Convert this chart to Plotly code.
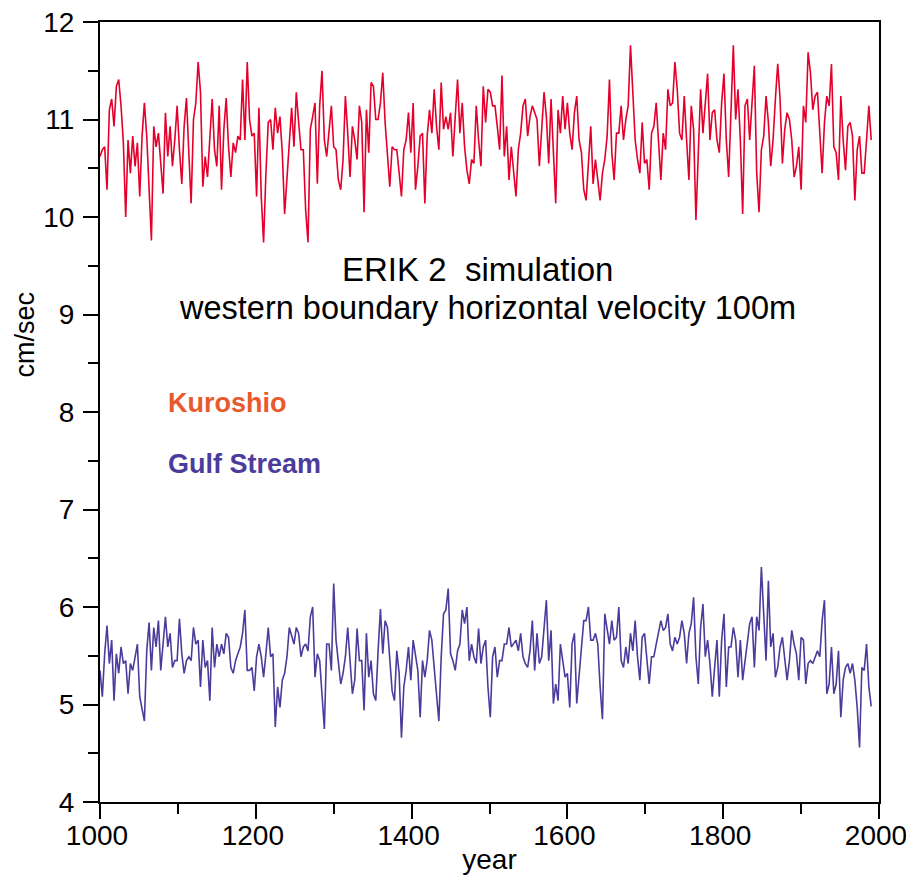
import plotly.graph_objects as go

# ---- data (3-year sampling) ----
years = list(range(1000, 1991, 3))

kuroshio_1000_1255 = [
    10.62, 10.69, 10.72, 10.28, 11.10, 11.21, 10.93, 11.34, 11.41, 11.14,
    10.76, 10.00, 10.79, 10.45, 10.83, 10.52, 10.76, 10.21, 10.83, 11.17,
    10.83, 10.21, 9.76, 10.93, 10.72, 10.86, 10.55, 10.24, 11.07, 10.62,
    10.93, 10.52, 10.79, 11.14, 10.69, 10.34, 10.93, 11.22, 10.66, 10.14,
    11.00, 11.17, 11.59, 11.28, 10.31, 10.62, 10.41, 10.79, 11.21, 10.69,
    10.52, 11.14, 10.28, 10.90, 11.22, 10.72, 10.41, 10.76, 10.66, 10.83,
    10.79, 11.41, 10.79, 11.59, 11.00, 10.83, 10.86, 10.21, 11.12, 10.21,
    9.74, 10.45, 10.97, 11.00, 10.69, 11.12, 10.86, 11.03, 10.66, 10.03,
    10.41, 10.69, 11.12, 10.72, 11.28, 10.97]
kuroshio_1258_1492 = [
    10.69, 10.69, 10.07, 9.74, 10.90, 11.03, 11.17, 10.34, 11.14, 11.50,
    10.79, 10.62, 10.86, 11.14, 10.72, 10.69, 10.38, 10.28, 10.59, 11.24,
    10.86, 10.41, 10.93, 10.79, 10.59, 11.14, 10.97, 10.05, 11.10, 10.66,
    11.38, 11.34, 11.00, 11.00, 11.17, 11.48, 10.97, 10.66, 10.31, 10.72,
    10.69, 10.69, 10.45, 10.21, 10.69, 10.79, 11.07, 10.66, 11.17, 10.28,
    10.52, 10.83, 10.86, 10.14, 10.83, 11.10, 10.86, 11.31, 10.93, 10.69,
    11.38, 10.90, 11.03, 10.90, 11.07, 10.62, 11.03, 11.41, 10.86, 11.17,
    10.72, 10.48, 10.34, 10.59, 10.55, 11.14, 10.79, 10.52, 11.34]
kuroshio_1495_1741 = [
    10.97, 11.31, 11.28, 11.14, 11.14, 10.93, 10.69, 11.45, 10.62, 10.93,
    10.38, 10.72, 10.45, 10.21, 10.69, 10.86, 11.14, 11.21, 10.83, 11.03,
    11.14, 11.07, 11.00, 10.52, 10.97, 11.28, 11.03, 10.55, 11.21, 10.66,
    10.14, 11.10, 10.86, 11.24, 10.90, 11.17, 10.86, 10.69, 11.07, 11.24,
    10.79, 10.66, 10.28, 10.17, 10.62, 10.93, 10.34, 10.59, 10.38, 10.17,
    10.45, 10.59, 10.83, 11.41, 10.66, 10.38, 10.86, 10.86, 11.14, 10.79,
    11.00, 11.14, 11.76, 11.31, 10.79, 10.59, 10.45, 10.97, 10.55, 10.59,
    10.28, 10.86, 10.93, 11.17, 10.79, 10.38, 10.86, 10.69, 11.31, 11.14,
    11.17, 11.59, 11.31]
kuroshio_1744_1990 = [
    10.86, 10.79, 11.24, 10.79, 10.38, 11.14, 10.90, 9.97, 10.62, 11.31,
    10.86, 11.14, 11.47, 10.79, 11.07, 11.10, 10.79, 10.66, 11.17, 11.47,
    10.79, 10.41, 11.14, 11.76, 11.00, 11.31, 10.79, 10.03, 11.14, 11.21,
    10.79, 11.21, 11.55, 10.45, 10.05, 10.69, 10.83, 11.24, 10.97, 10.52,
    10.79, 11.21, 11.57, 11.21, 10.55, 10.90, 11.07, 11.00, 10.79, 10.41,
    10.52, 10.72, 10.28, 11.14, 10.97, 11.69, 11.48, 11.10, 11.24, 11.28,
    10.79, 10.45, 10.97, 11.24, 11.14, 11.57, 10.72, 10.66, 10.38, 11.24,
    10.79, 10.48, 10.93, 10.97, 10.83, 10.17, 10.69, 10.83, 10.45, 10.45,
    10.79, 11.14, 10.79]

gulf_1000_1255 = [
    5.35, 5.08, 5.52, 5.81, 5.42, 5.66, 5.04, 5.52, 5.32, 5.59,
    5.42, 5.45, 5.11, 5.42, 5.35, 5.49, 5.62, 5.08, 4.97, 4.83,
    5.55, 5.84, 5.35, 5.79, 5.59, 5.86, 5.35, 5.66, 5.90, 5.59,
    5.73, 5.38, 5.45, 5.45, 5.88, 5.52, 5.32, 5.45, 5.49, 5.45,
    5.79, 5.62, 5.66, 5.18, 5.66, 5.38, 5.45, 5.04, 5.79, 5.38,
    5.62, 5.49, 5.62, 5.52, 5.73, 5.69, 5.38, 5.32, 5.45, 5.52,
    5.59, 5.73, 5.97, 5.35, 5.35, 5.38, 5.14, 5.49, 5.62, 5.49,
    5.28, 5.52, 5.79, 5.49, 5.52, 4.77, 5.18, 4.97, 5.25, 5.32,
    5.49, 5.79, 5.69, 5.62, 5.79, 5.73]
gulf_1258_1492 = [
    5.49, 5.59, 5.62, 5.55, 5.90, 6.00, 5.28, 5.52, 5.45, 5.14,
    4.75, 5.62, 5.62, 5.35, 6.24, 5.66, 5.45, 5.21, 5.32, 5.49,
    5.79, 5.45, 5.11, 5.25, 5.78, 5.45, 5.45, 4.94, 5.73, 5.28,
    5.45, 5.11, 5.04, 5.55, 5.98, 5.52, 5.86, 5.79, 5.49, 5.14,
    5.04, 5.55, 5.32, 4.66, 5.18, 5.35, 5.59, 5.25, 5.66, 5.52,
    5.35, 4.87, 5.45, 5.28, 5.45, 5.76, 5.66, 5.38, 5.11, 4.83,
    5.49, 5.93, 5.97, 6.19, 5.52, 5.45, 5.35, 5.55, 5.62, 5.97,
    5.83, 6.00, 5.45, 5.62, 5.49, 5.42, 5.78, 5.42, 5.59]
gulf_1495_1741 = [
    5.66, 5.18, 4.87, 5.49, 5.59, 5.28, 5.45, 5.45, 5.62, 5.62,
    5.79, 5.59, 5.62, 5.66, 5.55, 5.73, 5.49, 5.42, 5.38, 5.55,
    5.86, 5.35, 5.73, 5.42, 5.49, 5.79, 6.07, 5.45, 5.76, 5.01,
    5.21, 5.04, 5.62, 5.45, 5.28, 5.32, 4.97, 5.62, 5.73, 5.01,
    5.28, 5.52, 5.86, 5.86, 6.00, 5.66, 5.66, 5.73, 5.62, 5.18,
    4.85, 5.93, 5.76, 5.62, 5.86, 5.66, 5.69, 6.00, 5.45, 5.38,
    5.59, 5.42, 5.73, 5.55, 5.86, 5.49, 5.25, 5.69, 5.73, 5.45,
    5.21, 5.49, 5.49, 5.62, 5.73, 5.86, 5.76, 5.79, 5.93, 5.62,
    5.55, 5.69, 5.62]
gulf_1744_1990 = [
    5.69, 5.86, 5.73, 5.42, 5.73, 5.83, 6.10, 5.49, 5.21, 5.79,
    6.03, 5.49, 5.66, 5.42, 5.08, 5.38, 5.66, 5.08, 5.66, 5.93,
    5.18, 5.59, 5.59, 5.79, 5.66, 5.28, 5.66, 5.25, 5.45, 5.66,
    5.83, 5.90, 5.38, 5.90, 5.76, 6.41, 5.93, 5.45, 6.27, 5.59,
    5.73, 5.28, 5.38, 5.59, 5.69, 5.49, 5.25, 5.45, 5.76, 5.62,
    5.52, 5.25, 5.69, 5.66, 5.21, 5.42, 5.45, 5.42, 5.49, 5.55,
    5.49, 5.86, 6.07, 5.11, 5.21, 5.59, 5.11, 5.21, 5.55, 4.87,
    5.25, 5.38, 5.42, 5.32, 5.42, 5.25, 4.97, 4.56, 5.38, 5.35,
    5.62, 5.18, 4.98]

kuroshio = kuroshio_1000_1255 + kuroshio_1258_1492 + kuroshio_1495_1741 + kuroshio_1744_1990
gulf_stream = gulf_1000_1255 + gulf_1258_1492 + gulf_1495_1741 + gulf_1744_1990

x_ticks = [1000, 1200, 1400, 1600, 1800, 2000]
y_ticks = [4, 5, 6, 7, 8, 9, 10, 11, 12]

title_line1 = "ERIK 2\u00a0 simulation"
title_line2 = "western boundary horizontal velocity 100m"

FONT = "Liberation Sans, Arial, Helvetica, sans-serif"
RED_LINE = "#E4002B"
RED_TEXT = "#E85A2E"
PURPLE = "#4B3C9C"

fig = go.Figure()
fig.add_trace(go.Scatter(x=years, y=kuroshio, mode="lines", name="Kuroshio",
                         line=dict(color=RED_LINE, width=1.6)))
fig.add_trace(go.Scatter(x=years, y=gulf_stream, mode="lines", name="Gulf Stream",
                         line=dict(color=PURPLE, width=1.6)))

axis_common = dict(showline=True, linecolor="black", linewidth=2, mirror=True,
                   ticks="outside", ticklen=15, tickwidth=2, tickcolor="black",
                   showgrid=False, zeroline=False, automargin=False,
                   ticklabeloverflow="allow",
                   tickfont=dict(family=FONT, size=28, color="black"))

fig.update_xaxes(range=[1000, 2000], tickvals=x_ticks, **axis_common,
                 minor=dict(dtick=100, ticks="outside", ticklen=10, tickwidth=2,
                            tickcolor="black", showgrid=False),
                 ticklabelstandoff=-8, ticklabelshift=-3,
                 title=dict(text="year", font=dict(family=FONT, size=28, color="black"),
                            standoff=0))
fig.update_yaxes(range=[4, 12], tickvals=y_ticks, **axis_common,
                 minor=dict(dtick=0.5, ticks="outside", ticklen=10, tickwidth=2,
                            tickcolor="black", showgrid=False),
                 ticklabelstandoff=3)

fig.add_annotation(x=-0.0965, y=0.599, xref="paper", yref="paper", text="cm/sec",
                   textangle=-90, showarrow=False, xanchor="center", yanchor="middle",
                   font=dict(family=FONT, size=27, color="black"))
fig.add_annotation(x=1484, y=9.46, xref="x", yref="y", text=title_line1,
                   showarrow=False, font=dict(family=FONT, size=33, color="black"))
fig.add_annotation(x=1498, y=9.07, xref="x", yref="y", text=title_line2,
                   showarrow=False, font=dict(family=FONT, size=32.5, color="black"))
fig.add_annotation(x=1085, y=8.09, xref="x", yref="y", text="<b>Kuroshio</b>",
                   xanchor="left", showarrow=False,
                   font=dict(family=FONT, size=27, color=RED_TEXT))
fig.add_annotation(x=1085, y=7.47, xref="x", yref="y", text="<b>Gulf Stream</b>",
                   xanchor="left", showarrow=False,
                   font=dict(family=FONT, size=27, color=PURPLE))

# the page adds an 8px body margin, so the figure is sized to fit the window
fig.update_layout(width=906, height=871, showlegend=False,
                  plot_bgcolor="white", paper_bgcolor="white",
                  margin=dict(l=92, r=35, t=14, b=77),
                  font=dict(family=FONT, color="black"))

fig.write_html("out.html")
